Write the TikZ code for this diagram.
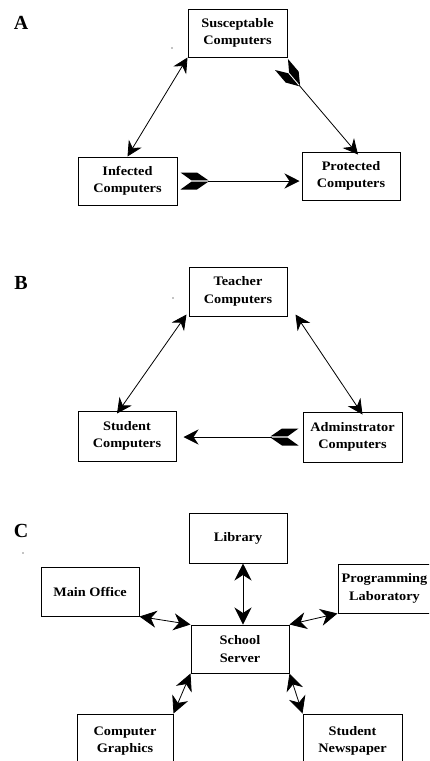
\documentclass[tikz,border=0pt]{standalone}
\usepackage{fontspec}
\setmainfont{Liberation Serif}
\newfontfamily\boxfont[FakeStretch=1.1]{Liberation Serif}
\usetikzlibrary{arrows.meta}
\pgfdeclarearrow{
  name=Fletch,
  setup code={
    \pgfarrowssettipend{0pt}
    \pgfarrowssetbackend{-28pt}
    \pgfarrowssetlineend{-27pt}
    \pgfarrowshullpoint{0pt}{8.5pt}
    \pgfarrowshullpoint{0pt}{-8.5pt}
    \pgfarrowshullpoint{-28pt}{0pt}
  },
  drawing code={
    \pgfpathmoveto{\pgfqpoint{0pt}{8.5pt}}
    \pgfpathlineto{\pgfqpoint{-16.5pt}{8.5pt}}
    \pgfpathlineto{\pgfqpoint{-28pt}{0.6pt}}
    \pgfpathlineto{\pgfqpoint{-11pt}{0.6pt}}
    \pgfpathclose
    \pgfpathmoveto{\pgfqpoint{0pt}{-8.5pt}}
    \pgfpathlineto{\pgfqpoint{-16.5pt}{-8.5pt}}
    \pgfpathlineto{\pgfqpoint{-28pt}{-0.6pt}}
    \pgfpathlineto{\pgfqpoint{-11pt}{-0.6pt}}
    \pgfpathclose
    \pgfusepathqfill
  }
}
\tikzset{
  box/.style={draw, line width=1pt, minimum width=98pt, minimum height=48pt, align=center, inner sep=0pt,
    font=\boxfont\bfseries\fontsize{13}{17.5}\selectfont},
  panel/.style={font=\bfseries\fontsize{20}{24}\selectfont, inner sep=0pt},
  link/.style={line width=0.8pt},
  hd/.tip={Stealth[length=15pt,width=15pt,inset=5pt]},
  bighd/.tip={Stealth[length=17pt,width=17pt,inset=5.5pt]},
  fl/.tip={Fletch},
  speck/.style={fill=black, circle, inner sep=0pt, minimum size=1.3pt},
}
\begin{document}
\begin{tikzpicture}[x=1pt,y=-1pt]
\clip (0,0) rectangle (429,761);
% ---------- A ----------
\node[panel] (la) at (21,23) {A};
\node[box, minimum width=99pt] (susc) at (237.5,33) {Susceptable\\Computers};
\node[box, minimum width=99pt] (inf) at (127.5,181) {Infected\\Computers};
\node[box] (prot) at (351,176) {Protected\\Computers};
\node[speck] (da) at (172,48) {};
\draw[link, hd-hd] (inf.north) -- (susc.south west);
\draw[link, fl-hd] ([xshift=-6pt,yshift=-7pt]susc.south east) -- ([xshift=7pt,yshift=-3pt]prot.north);
\draw[link, fl-hd, shorten <=3pt, shorten >=2pt] (inf.east) -- (inf.east -| prot.west);
% ---------- B ----------
\node[panel] (lb) at (21,283) {B};
\node[box, minimum height=49pt] (teach) at (238,291.5) {Teacher\\Computers};
\node[box, minimum height=50pt] (stu) at (127,436) {Student\\Computers};
\node[box, minimum width=99pt, minimum height=50pt] (adm) at (352.5,437) {Adminstrator\\Computers};
\node[speck] (db) at (173,298) {};
\draw[link, hd-hd] ([xshift=-10pt,yshift=-3pt]stu.north) -- ([xshift=-2pt,yshift=2pt]teach.south west);
\draw[link, hd-hd] ([xshift=8pt,yshift=2pt]teach.south east) -- ([xshift=10pt,yshift=-3pt]adm.north);
\draw[link, fl-hd, shorten <=4pt, shorten >=7pt] (adm.west) -- (adm.west -| stu.east);
% ---------- C ----------
\node[panel] (lc) at (21,531) {C};
\node[speck] (dc) at (23,553) {};
\node[box, minimum height=50pt] (lib) at (238,538) {Library};
\node[box, minimum height=49pt] (mo) at (90,591.5) {Main Office};
\node[box, minimum width=93pt, minimum height=49pt] (pl) at (384.5,588.5) {Programming\\Laboratory};
\node[box] (srv) at (240,649) {School\\Server};
\node[box, minimum width=96pt, minimum height=54pt] (cg) at (125,741) {Computer\\Graphics};
\node[box, minimum width=99pt, minimum height=54pt] (sn) at (352.5,741) {Student\\Newspaper};
\draw[link, bighd-bighd] ([xshift=5pt]lib.south) -- ([xshift=5pt]lib.south |- srv.north);
\draw[link, bighd-bighd] (mo.south east) -- (srv.north west);
\draw[link, bighd-bighd] (pl.south west) -- (srv.north east);
\draw[link, bighd-bighd] (srv.south west) -- (cg.north east);
\draw[link, bighd-bighd] (srv.south east) -- (sn.north west);
\end{tikzpicture}
\end{document}
